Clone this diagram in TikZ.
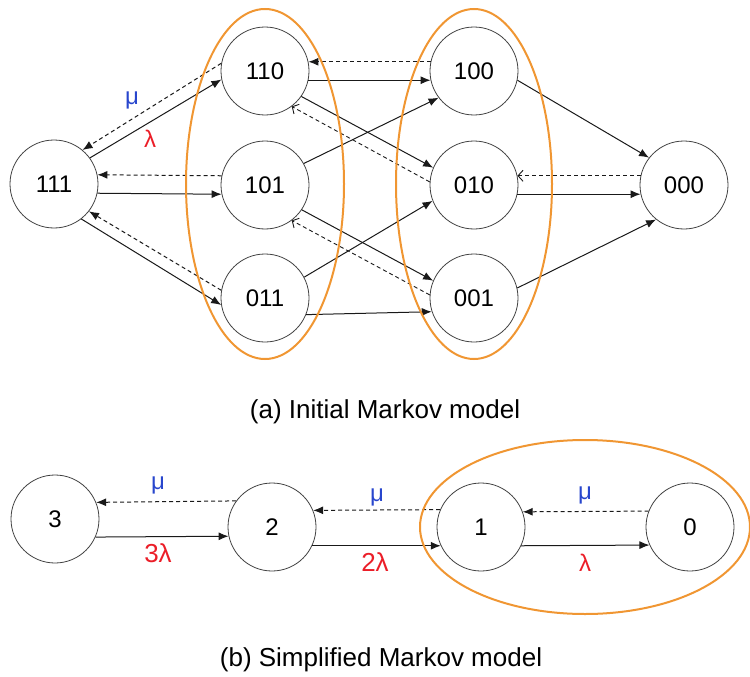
\documentclass[tikz,border=0pt]{standalone}
\usepackage{fontspec}
\setmainfont{Liberation Sans}
\usetikzlibrary{arrows.meta}
\definecolor{grporange}{RGB}{240,150,50}
\definecolor{mublue}{RGB}{40,70,205}
\definecolor{lamred}{RGB}{235,30,40}
\newcommand{\capfnt}{\fontsize{26}{30}\selectfont}

\begin{document}
\begin{tikzpicture}[
  x=1pt, y=-1pt,
  font=\fontsize{24}{28}\selectfont,
  st/.style   = {draw=black!75, circle, minimum size=88pt, inner sep=0pt, line width=0.8pt},
  ar/.style   = {-{Latex[length=10pt,width=8pt]}, line width=1pt, black!90},
  dar/.style  = {ar, dash pattern=on 4pt off 3pt},
  oar/.style  = {-{Straight Barb[length=5pt,width=11pt]}, line width=0.9pt, black!90, dash pattern=on 4pt off 3pt},
  grp/.style  = {draw=grporange, line width=2pt},
  mulbl/.style  = {text=mublue},
  lamlbl/.style = {text=lamred}
]
\useasboundingbox (0,0) rectangle (750,677);

% ---------- (a) initial model: states -----------------------------------
\node[st] (s111) at ( 54,184) {111};
\node[st] (s110) at (265, 71) {110};
\node[st] (s101) at (265,185) {101};
\node[st] (s011) at (265,298) {011};
\node[st] (s100) at (474, 71) {100};
\node[st] (s010) at (474,185) {010};
\node[st] (s001) at (474,298) {001};
\node[st] (s000) at (684,185) {000};

% ---------- failures (solid) --------------------------------------------
\foreach \a/\p/\b/\q in {s111/36/s110/191, s111/-12/s101/192, s111/-52/s011/189,
                         s110/-12/s100/192, s110/-35/s010/157, s101/29/s100/217,
                         s101/-34/s001/157, s011/28/s010/201, s011/-22/s001/198,
                         s100/-12/s000/142, s010/-12/s000/192, s001/13/s000/231}{
  \draw[ar] (\a.\p) -- (\b.\q);}

% ---------- repairs (dashed) --------------------------------------------
\foreach \a/\p/\b/\q in {s110/170/s111/50, s101/168/s111/12, s011/170/s111/-38,
                         s100/168/s110/12}{
  \draw[dar] (\a.\p) -- (\b.\q);}
\foreach \a/\p/\b/\q in {s010/176/s110/-53, s001/176/s101/-53, s000/168/s010/12}{
  \draw[oar] (\a.\p) -- (\b.\q);}

\node[mulbl]  (muA)  at (132,100) {μ};
\node[lamlbl] (lamA) at (150,139) {λ};

% ---------- groups of equal states --------------------------------------
\draw[grp] (265,184) ellipse [x radius=79, y radius=175];
\draw[grp] (474,184) ellipse [x radius=78, y radius=175];

\node[font=\capfnt] (capA) at (385,412) {(a) Initial Markov model};

% ---------- (b) simplified model ----------------------------------------
\node[st] (n3) at ( 55,519) {3};
\node[st] (n2) at (272,527) {2};
\node[st] (n1) at (481,527) {1};
\node[st] (n0) at (690,527) {0};

\foreach \a/\p/\b/\q in {n3/-24/n2/192, n2/-25/n1/205, n1/-25/n0/204}{
  \draw[ar] (\a.\p) -- (\b.\q);}
\foreach \a/\p/\b/\q in {n2/144/n3/22, n1/157/n2/22, n0/159/n1/20}{
  \draw[dar] (\a.\p) -- (\b.\q);}

\node[mulbl] (muB) at (158,485) {μ};
\node[mulbl] (muC) at (377,497) {μ};
\node[mulbl] (muD) at (585,495) {μ};
\node[lamlbl, font=\capfnt] (lamB) at (158,553) {3λ};
\node[lamlbl, font=\capfnt] (lamC) at (375,562) {2λ};
\node[lamlbl] (lamD) at (585,563) {λ};

\draw[grp] (585,527) ellipse [x radius=165, y radius=87];

\node[font=\capfnt] (capB) at (381,660) {(b) Simplified Markov model};

\end{tikzpicture}
\end{document}
